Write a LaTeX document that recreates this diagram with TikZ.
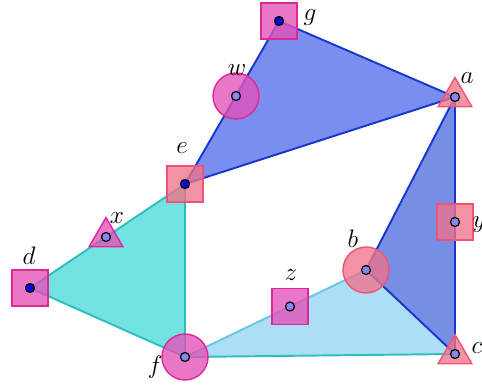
\documentclass[tikz,border=0pt]{standalone}
\usepackage{amsmath}
\usepackage{amssymb}
\usepackage{tikz}
\usetikzlibrary{shapes.geometric}

\definecolor{topfill}{RGB}{122,142,240}
\definecolor{rightfill}{RGB}{118,142,228}
\definecolor{bluedge}{RGB}{25,55,205}
\definecolor{cyanfill}{RGB}{115,226,226}
\definecolor{cyanedge}{RGB}{45,190,190}
\definecolor{skyfill}{RGB}{172,222,246}
\definecolor{skyedge}{RGB}{105,200,222}
\definecolor{magfill}{RGB}{228,80,185}
\definecolor{magedge}{RGB}{222,40,150}
\definecolor{salfill}{RGB}{240,115,140}
\definecolor{saledge}{RGB}{236,85,118}
\definecolor{ptlight}{RGB}{135,135,240}
\definecolor{ptdark}{RGB}{10,10,225}

\begin{document}
\begin{tikzpicture}[
    pt/.style={circle, draw=black, line width=0.7pt, fill=ptlight, inner sep=0pt, minimum size=0.18cm},
    ptd/.style={pt, fill=ptdark},
    sqmark/.style={rectangle, inner sep=0pt, minimum size=0.72cm, line width=0.8pt, fill opacity=0.78},
    cirmark/.style={circle, inner sep=0pt, minimum size=0.92cm, line width=0.8pt, fill opacity=0.78},
    trimark/.style={regular polygon, regular polygon sides=3, inner sep=0pt, minimum size=0.78cm, line width=0.8pt, fill opacity=0.78},
    mag/.style={draw=magedge, fill=magfill},
    sal/.style={draw=saledge, fill=salfill},
    lbl/.style={font=\Large}
  ]

    \useasboundingbox (0,0) rectangle (9.64,7.74);

    % Vertices
    \coordinate (g) at (5.58,7.32);
    \coordinate (a) at (9.10,5.80);
    \coordinate (w) at (4.72,5.82);
    \coordinate (e) at (3.70,4.06);
    \coordinate (x) at (2.12,3.00);
    \coordinate (d) at (0.60,1.98);
    \coordinate (f) at (3.70,0.60);
    \coordinate (z) at (5.80,1.61);
    \coordinate (b) at (7.32,2.34);
    \coordinate (y) at (9.10,3.30);
    \coordinate (c) at (9.10,0.66);

    % Faces
    \fill[topfill] (g) -- (a) -- (e) -- cycle;
    \fill[rightfill] (a) -- (c) -- (b) -- cycle;
    \fill[cyanfill] (d) -- (e) -- (f) -- cycle;
    \fill[skyfill] (f) -- (b) -- (c) -- cycle;

    % Edges
    \draw[cyanedge, line width=1.1pt] (d) -- (e) -- (f) -- cycle;
    \draw[skyedge, line width=1.1pt] (f) -- (b);
    \draw[cyanedge, line width=1.1pt] (f) -- (c);
    \draw[bluedge, line width=1.1pt] (g) -- (a) -- (e) -- cycle;
    \draw[bluedge, line width=1.1pt] (a) -- (c) -- (b) -- cycle;

    % Markers
    \node[sqmark, mag] (mg) at (g) {};
    \node[cirmark, mag] (mw) at (w) {};
    \node[trimark, sal] (ma) at (a) {};
    \node[sqmark, sal] (me) at (e) {};
    \node[trimark, mag] (mx) at (x) {};
    \node[sqmark, mag] (md) at (d) {};
    \node[cirmark, mag] (mf) at (f) {};
    \node[sqmark, mag] (mz) at (z) {};
    \node[cirmark, sal] (mb) at (b) {};
    \node[sqmark, sal] (my) at (y) {};
    \node[trimark, sal] (mc) at (c) {};

    % Points
    \node[ptd] (pg) at (g) {};
    \node[pt] (pw) at (w) {};
    \node[pt] (pa) at (a) {};
    \node[ptd] (pe) at (e) {};
    \node[pt] (px) at (x) {};
    \node[ptd] (pd) at (d) {};
    \node[pt] (pf) at (f) {};
    \node[pt] (pz) at (z) {};
    \node[pt] (pb) at (b) {};
    \node[pt] (py) at (y) {};
    \node[pt] (pc) at (c) {};

    % Labels
    \node[lbl] (lg) at (6.20,7.38) {$g$};
    \node[lbl] (lw) at (4.74,6.34) {$w$};
    \node[lbl] (la) at (9.34,6.18) {$a$};
    \node[lbl] (le) at (3.64,4.78) {$e$};
    \node[lbl] (lx) at (2.34,3.38) {$x$};
    \node[lbl] (ld) at (0.58,2.62) {$d$};
    \node[lbl] (lf) at (3.10,0.40) {$f$};
    \node[lbl] (lz) at (5.82,2.24) {$z$};
    \node[lbl] (lb) at (7.06,2.96) {$b$};
    \node[lbl] (ly) at (9.58,3.24) {$y$};
    \node[lbl] (lc) at (9.54,0.78) {$c$};

\end{tikzpicture}
\end{document}
